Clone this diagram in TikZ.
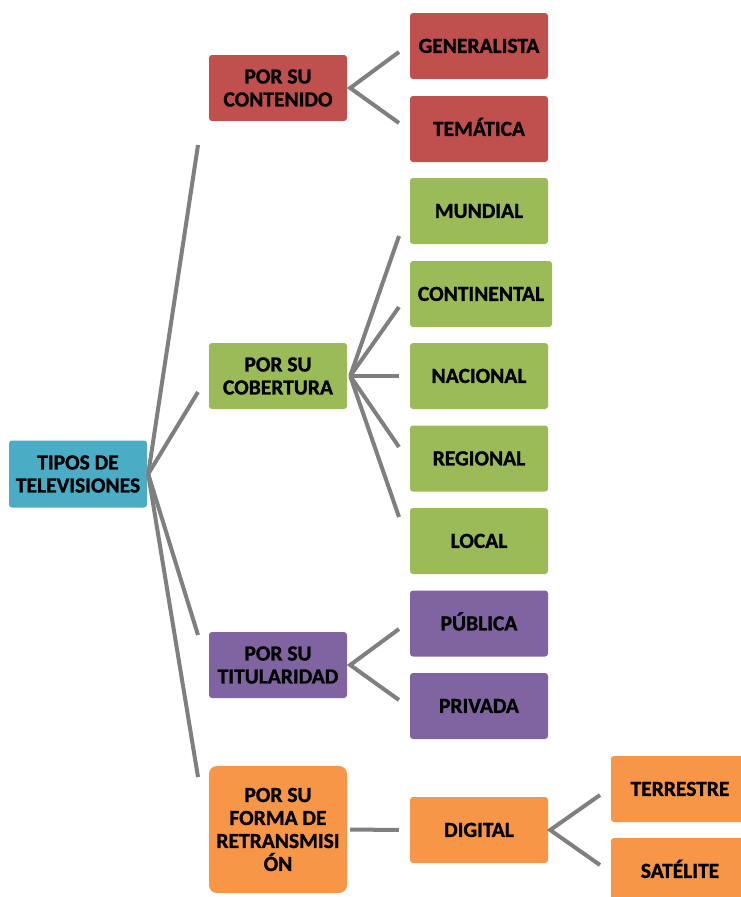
\documentclass[tikz,border=0pt]{standalone}
\usepackage{fontspec}
\setmainfont{Carlito}[BoldFeatures={FakeBold=1.2}]
\usetikzlibrary{calc}
\definecolor{cred}{HTML}{C0504D}
\definecolor{cgreen}{HTML}{9BBB59}
\definecolor{cpurple}{HTML}{8064A2}
\definecolor{corange}{HTML}{F79646}
\definecolor{cblue}{HTML}{4BACC6}
\definecolor{cline}{HTML}{7F7F7F}
\tikzset{
  box/.style={fill=#1, draw=none, rounded corners=3pt, inner sep=0pt,
    minimum width=138pt, minimum height=66pt, align=center,
    font=\fontsize{21.5}{23}\selectfont\bfseries, text=black},
  oneline/.style={box=#1, text height=13.8pt, text depth=0pt},
  conn/.style={draw=cline, line width=4pt},
}
\begin{document}
\begin{tikzpicture}[x=1pt,y=-1pt]
\useasboundingbox (0,0) rectangle (741,897);
% root
\node[box=cblue, minimum width=138pt, minimum height=67pt] (tipos) at (78,474) {TIPOS DE\\TELEVISIONES};
% level 1
\node[box=cred] (cont) at (278,88) {POR SU\\CONTENIDO};
\node[box=cgreen] (cob) at (278,376) {POR SU\\COBERTURA};
\node[box=cpurple] (tit) at (278,665) {POR SU\\TITULARIDAD};
\node[box=corange, minimum height=127pt, rounded corners=8pt] (forma) at (278,829.5) {POR SU\\FORMA DE\\RETRANSMISI\\ÓN};
% level 2
\node[oneline=cred] (gen) at (479,46) {GENERALISTA};
\node[oneline=cred] (tem) at (479,129) {TEMÁTICA};
\node[oneline=cgreen] (mun) at (479,211) {MUNDIAL};
\node[oneline=cgreen, minimum width=142pt] (con) at (481,294) {CONTINENTAL};
\node[oneline=cgreen] (nac) at (479,376) {NACIONAL};
\node[oneline=cgreen] (reg) at (479,458.5) {REGIONAL};
\node[oneline=cgreen] (loc) at (479,541) {LOCAL};
\node[oneline=cpurple] (pub) at (479,623.5) {PÚBLICA};
\node[oneline=cpurple] (pri) at (479,706) {PRIVADA};
\node[oneline=corange] (dig) at (479,830) {DIGITAL};
% level 3
\node[oneline=corange] (ter) at (680,789) {TERRESTRE};
\node[oneline=corange] (sat) at (680,871) {SATÉLITE};
% connector coordinates
\coordinate (v0) at ($(tipos.east)+(1,0)$);
\coordinate (v1) at ($(cont.east)+(3,0)$);
\coordinate (v2) at ($(cob.east)+(3,0)$);
\coordinate (v3) at ($(tit.east)+(3,0)$);
\coordinate (v4) at ($(dig.east)+(2,0)$);
\coordinate (e1) at (198,145);
\coordinate (e2) at (198,392);
\coordinate (e3) at (198,635);
\coordinate (e4) at (198,777);
\coordinate (g1) at (399,52);
\coordinate (g2) at (399,123);
\coordinate (c1) at (399,236);
\coordinate (c2) at (399,307);
\coordinate (c3) at (399,376);
\coordinate (c4) at (399,447);
\coordinate (c5) at (399,517);
\coordinate (p1) at (399,629);
\coordinate (p2) at (399,700);
\coordinate (fa) at ($(forma.east)+(3,0)$);
\coordinate (fb) at ($(dig.west)+(-11,0)$);
\coordinate (d1) at (600,795);
\coordinate (d2) at (600,865);
% connectors
\foreach \e in {e1,e2,e3,e4} \draw[conn] (v0) -- (\e);
\draw[conn] (g1) -- (v1) -- (g2);
\foreach \e in {c1,c2,c3,c4,c5} \draw[conn] (v2) -- (\e);
\draw[conn] (p1) -- (v3) -- (p2);
\draw[conn] (fa) -- (fb);
\draw[conn] (d1) -- (v4) -- (d2);
\end{tikzpicture}
\end{document}
